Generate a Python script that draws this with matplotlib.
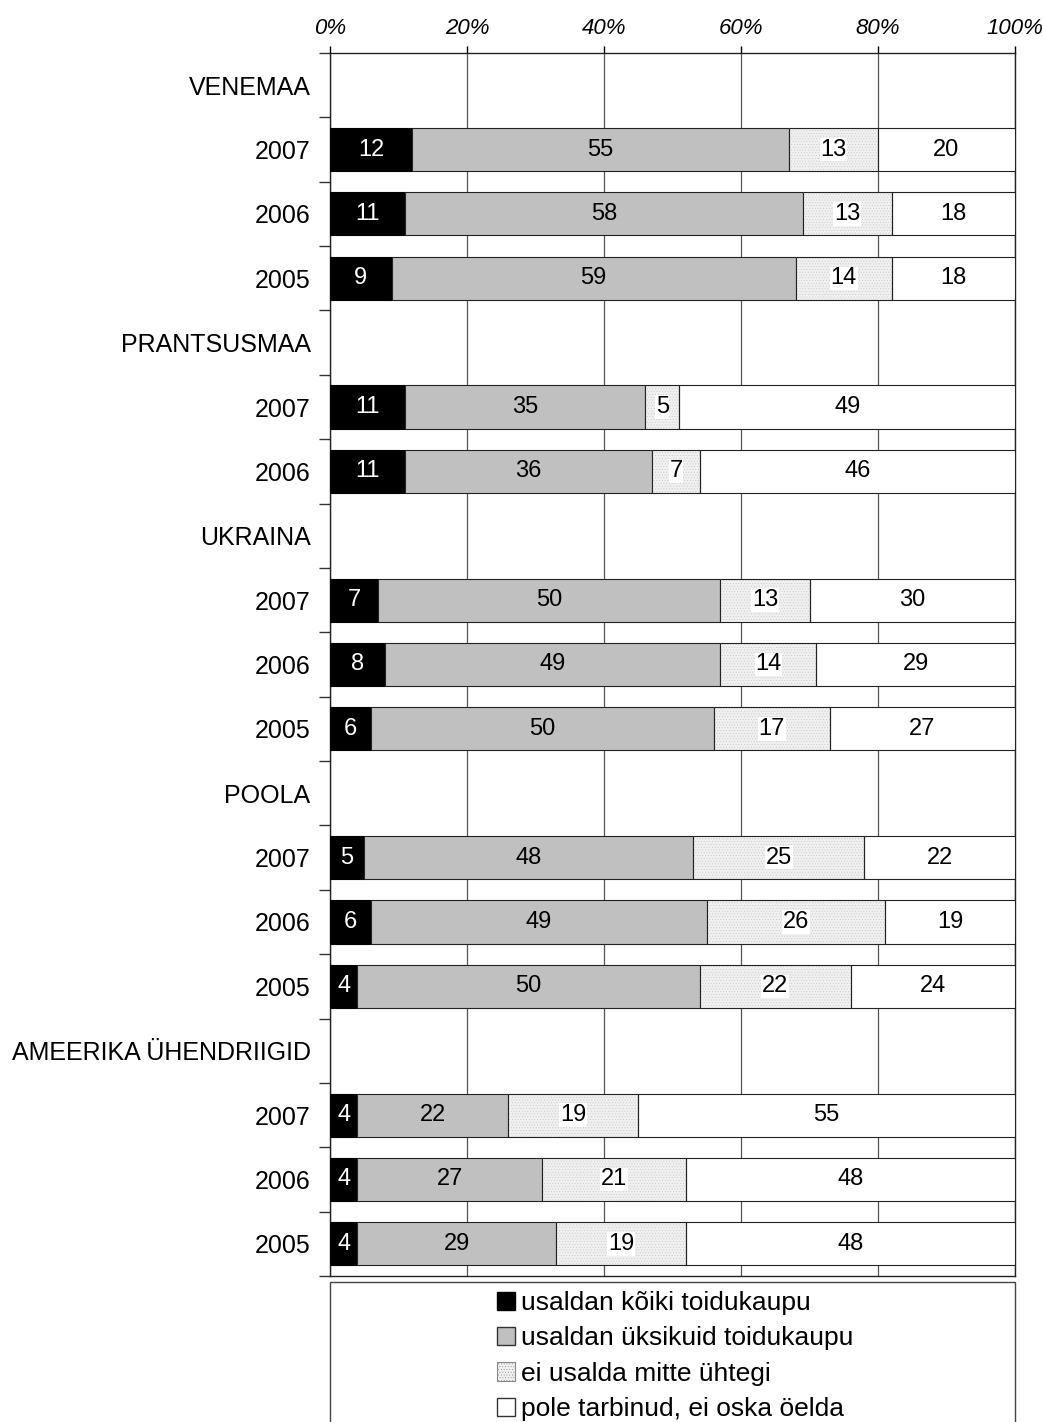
import numpy as np
import matplotlib
matplotlib.use('Agg')
import matplotlib.pyplot as plt
from matplotlib.patches import Patch, Rectangle

plt.rcParams['font.family'] = ['Liberation Sans', 'DejaVu Sans']
plt.rcParams['hatch.linewidth'] = 0.3

row_labels = ['VENEMAA', '2007', '2006', '2005',
              'PRANTSUSMAA', '2007', '2006',
              'UKRAINA', '2007', '2006', '2005',
              'POOLA', '2007', '2006', '2005',
              'AMEERIKA ÜHENDRIIGID', '2007', '2006', '2005']
nan = np.nan
koiki = [nan, 12, 11, 9, nan, 11, 11, nan, 7, 8, 6, nan, 5, 6, 4, nan, 4, 4, 4]
uksikuid = [nan, 55, 58, 59, nan, 35, 36, nan, 50, 49, 50, nan, 48, 49, 50, nan, 22, 27, 29]
mitte = [nan, 13, 13, 14, nan, 5, 7, nan, 13, 14, 17, nan, 25, 26, 22, nan, 19, 21, 19]
pole = [nan, 20, 18, 18, nan, 49, 46, nan, 30, 29, 27, nan, 22, 19, 24, nan, 55, 48, 48]

series_names = ['usaldan kõiki toidukaupu', 'usaldan üksikuid toidukaupu',
                'ei usalda mitte ühtegi', 'pole tarbinud, ei oska öelda']
series = [koiki, uksikuid, mitte, pole]

W, H = 1043, 1422
fig = plt.figure(figsize=(W / 100, H / 100), dpi=100)
ax = fig.add_axes([330 / W, 1 - 1276 / H, (1015 - 330) / W, (1276 - 53) / H])

y = np.arange(len(row_labels))
bh = 0.67
left = np.zeros(len(y))
for i, vals in enumerate(series):
    v = np.array(vals, dtype=float)
    ok = ~np.isnan(v)
    if i == 0:
        ax.barh(y[ok], v[ok], left=left[ok], height=bh, color='black',
                edgecolor='black', lw=0.8, zorder=3)
    elif i == 1:
        ax.barh(y[ok], v[ok], left=left[ok], height=bh, color='#c0c0c0',
                edgecolor='#222222', lw=0.8, zorder=3)
    elif i == 2:
        ax.barh(y[ok], v[ok], left=left[ok], height=bh, color='#f0f0f0',
                edgecolor='#c4c4c4', hatch='......', lw=0, zorder=3)
        ax.barh(y[ok], v[ok], left=left[ok], height=bh, fill=False,
                edgecolor='#222222', lw=0.8, zorder=4)
    else:
        ax.barh(y[ok], v[ok], left=left[ok], height=bh, color='white',
                edgecolor='#222222', lw=0.8, zorder=3)
    for yy, lv, vv in zip(y[ok], left[ok], v[ok]):
        kw = dict(ha='center', va='center', fontsize=17, zorder=5)
        if i == 0:
            ax.text(lv + vv / 2, yy, '%d' % vv, color='white', **kw)
        elif i == 2:
            ax.text(lv + vv / 2, yy, '%d' % vv, color='black',
                    bbox=dict(facecolor='white', edgecolor='none', pad=0.5), **kw)
        else:
            ax.text(lv + vv / 2, yy, '%d' % vv, color='black', **kw)
    left[ok] += v[ok]

ax.set_xlim(0, 100)
ax.set_ylim(len(y) - 0.5, -0.5)

# x axis on top, italic percent labels
ax.xaxis.tick_top()
ax.set_xticks(np.arange(0, 101, 20))
ax.set_xticklabels(['%d%%' % v for v in range(0, 101, 20)], fontstyle='italic', fontsize=16)
ax.tick_params(axis='x', length=5, width=1, pad=5, colors='black')
ax.grid(axis='x', color='#555555', lw=0.9, zorder=0)

# y ticks at row boundaries, labels at row centres
ax.set_yticks(np.arange(-0.5, len(y), 1.0))
ax.set_yticklabels([])
ax.tick_params(axis='y', which='major', length=8, width=1, color='#333333')
ax.set_yticks(y, minor=True)
ax.set_yticklabels(row_labels, minor=True, fontsize=18)
ax.tick_params(axis='y', which='minor', length=0, pad=14)

for s in ax.spines.values():
    s.set_color('#222222')
    s.set_linewidth(1)

# legend box
fig.add_artist(Rectangle((330 / W, -0.02), (1015 - 330) / W, 1 - 1282 / H + 0.02,
                         transform=fig.transFigure, fill=False,
                         edgecolor='#444444', lw=1))
handles = [Patch(facecolor='black', edgecolor='black'),
           Patch(facecolor='#c0c0c0', edgecolor='#333333'),
           Patch(facecolor='#f0f0f0', edgecolor='#888888', hatch='......', lw=0.8),
           Patch(facecolor='white', edgecolor='#333333')]
fig.legend(handles, series_names, loc='upper left',
           bbox_to_anchor=(497 / W, 1 - 1291 / H), frameon=False,
           fontsize=19, handlelength=0.7, handleheight=0.7,
           handletextpad=0.2, labelspacing=0.43, borderpad=0, borderaxespad=0)

fig.savefig('out.png', dpi=100)
